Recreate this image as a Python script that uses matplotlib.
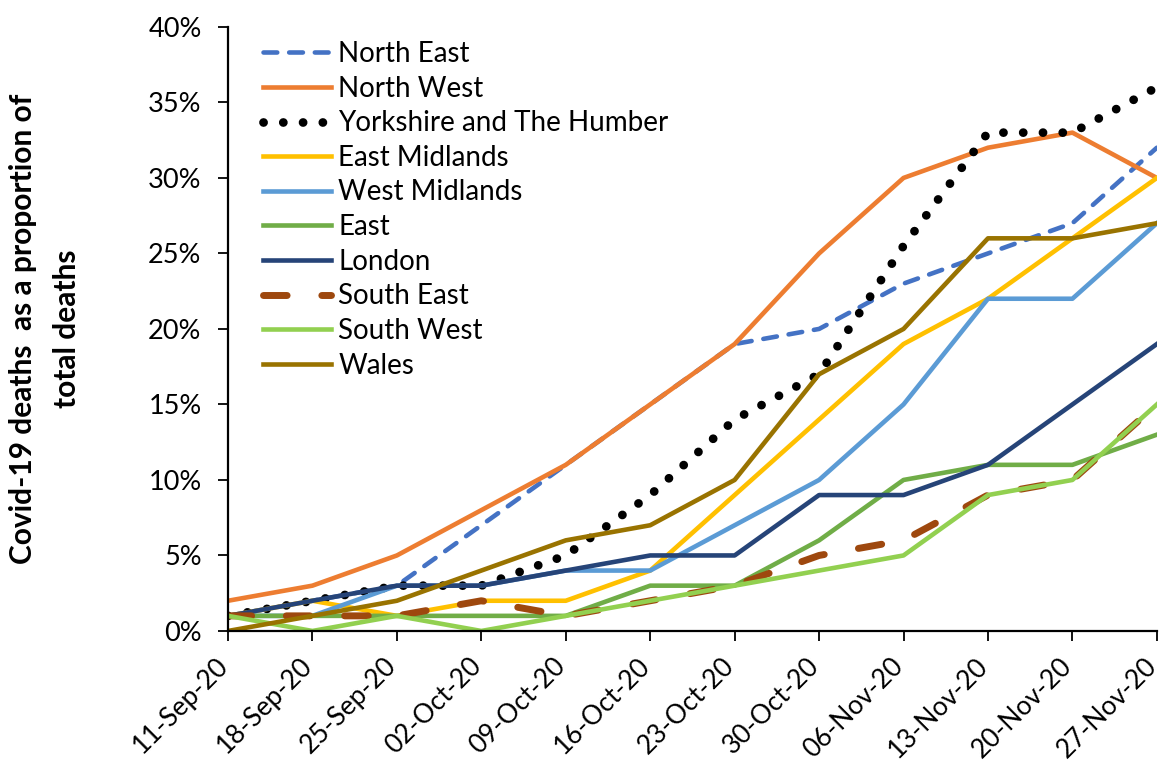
import matplotlib
matplotlib.use("Agg")
import matplotlib.pyplot as plt
import matplotlib.transforms as mtransforms
from matplotlib.ticker import FuncFormatter

plt.rcParams['font.family'] = ['Lato', 'DejaVu Sans']

dates = ['11-Sep-20', '18-Sep-20', '25-Sep-20', '02-Oct-20', '09-Oct-20', '16-Oct-20',
         '23-Oct-20', '30-Oct-20', '06-Nov-20', '13-Nov-20', '20-Nov-20', '27-Nov-20']

north_east = [1, 2, 3, 7, 11, 15, 19, 20, 23, 25, 27, 32]
north_west = [2, 3, 5, 8, 11, 15, 19, 25, 30, 32, 33, 30]
yorkshire = [1, 2, 3, 3, 5, 9, 14, 17, 25.5, 33, 33, 36]
east_midlands = [1, 2, 1, 2, 2, 4, 9, 14, 19, 22, 26, 30]
west_midlands = [1, 1, 3, 3, 4, 4, 7, 10, 15, 22, 22, 27]
east = [1, 1, 1, 1, 1, 3, 3, 6, 10, 11, 11, 13]
london = [1, 2, 3, 3, 4, 5, 5, 9, 9, 11, 15, 19]
south_east = [1, 1, 1, 2, 1, 2, 3, 5, 6, 9, 10, 15]
south_west = [1, 0, 1, 0, 1, 2, 3, 4, 5, 9, 10, 15]
wales = [0, 1, 2, 4, 6, 7, 10, 17, 20, 26, 26, 27]

fig = plt.figure(figsize=(11.65, 7.69), dpi=100)
ax = fig.add_axes([0.1957, 0.1795, 0.7973, 0.7855])
x = range(len(dates))

lw = 3.3
ax.plot(x, north_east, color='#4472C4', lw=lw, dashes=(3.0, 2.6), dash_capstyle='round', label='North East')
ax.plot(x, north_west, color='#ED7D31', lw=lw, label='North West')
ax.plot(x, yorkshire, color='black', lw=6.3, dashes=(0.01, 2.25), dash_capstyle='round', label='Yorkshire and The Humber')
ax.plot(x, east_midlands, color='#FFC000', lw=lw, label='East Midlands')
ax.plot(x, west_midlands, color='#5B9BD5', lw=lw, label='West Midlands')
ax.plot(x, east, color='#70AD47', lw=lw, label='East')
ax.plot(x, london, color='#264478', lw=lw, label='London')
ax.plot(x, south_east, color='#9E480E', lw=5.0, dashes=(3.4, 5.0), dash_capstyle='round', label='South East')
ax.plot(x, south_west, color='#92D050', lw=lw, label='South West')
ax.plot(x, wales, color='#997300', lw=lw, label='Wales')

ax.set_xlim(0, len(dates) - 1)
ax.set_ylim(0, 40)
ax.set_yticks(range(0, 41, 5))
ax.yaxis.set_major_formatter(FuncFormatter(lambda v, p: '%d%%' % v))
ax.set_xticks(list(x))
ax.set_xticklabels([])
# slanted date labels, hung just below each tick
lab_trans = ax.get_xaxis_transform() + mtransforms.ScaledTranslation(-0.04, -0.31, fig.dpi_scale_trans)
for i, d in enumerate(dates):
    ax.text(i, 0, d, transform=lab_trans, rotation=45, ha='right', va='center',
            rotation_mode='anchor', fontsize=19)
ax.tick_params(axis='y', labelsize=19.5, length=7, width=1.3, pad=12)
ax.tick_params(axis='x', length=7, width=1.3)
for s in ['top', 'right']:
    ax.spines[s].set_visible(False)
for s in ['left', 'bottom']:
    ax.spines[s].set_linewidth(1.6)

ax.set_ylabel('Covid-19 deaths  as a proportion of\ntotal deaths', fontsize=21.5, fontweight='bold',
              linespacing=1.7)
ax.yaxis.set_label_coords(-0.158, 0.5)

ax.legend(loc='upper left', bbox_to_anchor=(0.011, 1.018), frameon=False, fontsize=20,
          handlelength=2.45, labelspacing=0.31, handletextpad=0.25)

fig.savefig('out.png', dpi=100)
